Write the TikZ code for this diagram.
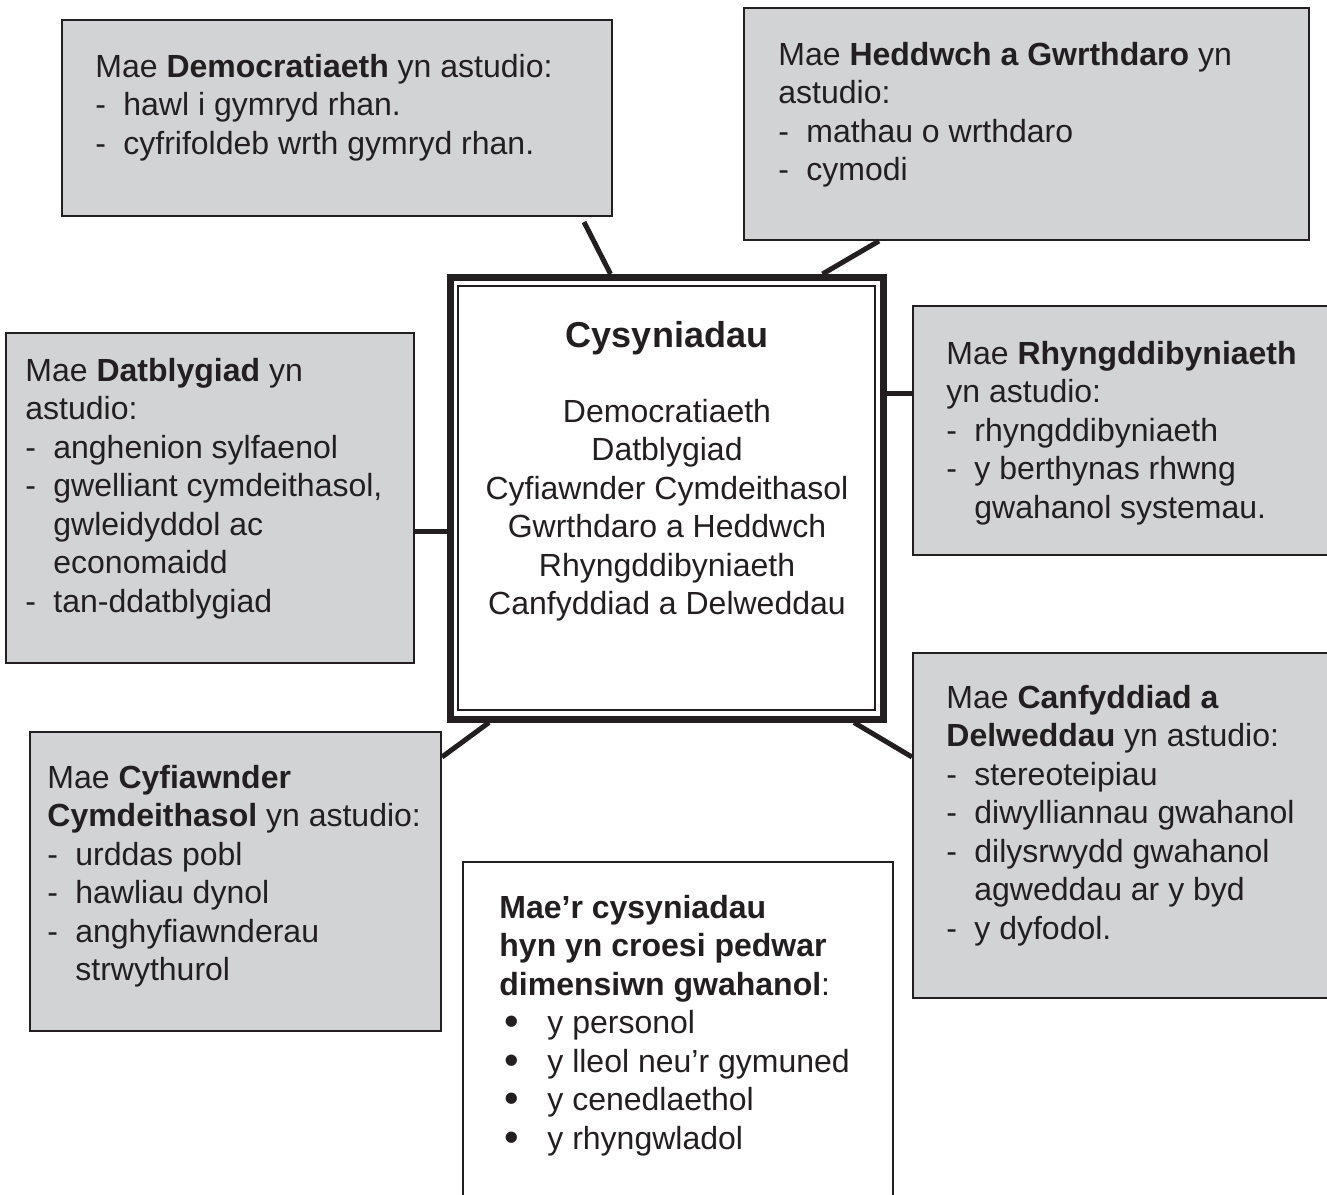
\documentclass[tikz,border=0pt]{standalone}
\usepackage{fontspec}
\setmainfont{Liberation Sans}
\usepackage{graphicx}
\usetikzlibrary{fit}
\definecolor{boxgrey}{HTML}{D1D3D4}
\definecolor{ink}{HTML}{231F20}
\newcommand{\itm}{\makebox[14pt][l]{-}}
\newcommand{\cont}{\hspace*{14pt}}
\newcommand{\bul}{\makebox[24pt][l]{\hspace{2.5pt}\raisebox{-1pt}{\scalebox{1.3}{•}}}}
\newcommand{\tstrut}{\rule{0pt}{20pt}}

\tikzset{
  greybox/.style={draw=ink,line width=1pt,fill=boxgrey,inner sep=0pt},
  whitebox/.style={draw=ink,line width=1pt,fill=white,inner sep=0pt},
  txt/.style={anchor=north west,inner sep=0pt,align=left,text=ink,font=\fontsize{16}{19.25}\selectfont},
  link/.style={draw=ink,line width=2.5pt},
}

\begin{document}
\begin{tikzpicture}[x=0.5pt,y=-0.5pt]
\path[use as bounding box,clip] (0,0) rectangle (1327,1194);

% boxes
\node[greybox,fit={(62,20)(612,216)}] (demo) {};
\node[greybox,fit={(744,8)(1309,240)}] (hedd) {};
\node[greybox,fit={(6,333)(414,663)}] (dat) {};
\node[greybox,fit={(913,306)(1340,555)}] (rhyng) {};
\node[greybox,fit={(913,653)(1340,998)}] (canf) {};
\node[greybox,fit={(30,732)(441,1031)}] (cyf) {};
\node[whitebox,fit={(463,862)(893,1210)}] (dims) {};

% centre box, thick and thin border
\node[draw=ink,line width=3.5pt,fill=white,inner sep=0pt,fit={(450,277.5)(883,719)}] (centre) {};
\node[draw=ink,line width=1pt,inner sep=0pt,fit={(458,286)(875,710)}] (centreinner) {};

% links
\coordinate (datlink) at ([yshift=-16.5pt]dat.east);
\coordinate (rhynglink) at ([yshift=52.5pt]centre.east);
\draw[link] ([shift={(-14.5pt,-2.5pt)}]demo.south east) -- ([xshift=82pt]centre.north west);
\draw[link] ([xshift=68pt]hedd.south west) -- ([xshift=-32pt]centre.north east);
\draw[link] (datlink) -- (datlink -| centre.west);
\draw[link] (rhynglink) -- (rhynglink -| rhyng.west);
\draw[link] ([xshift=-16.25pt]centre.south east) -- ([yshift=-52.5pt]canf.north west);
\draw[link] ([xshift=21.25pt]centre.south west) -- ([yshift=-13pt]cyf.north east);

% texts
\node[txt] (demotxt) at (95,37) {\tstrut Mae \textbf{Democratiaeth} yn astudio:\\
  \itm hawl i gymryd rhan.\\
  \itm cyfrifoldeb wrth gymryd rhan.};
\node[txt] (heddtxt) at (778,25) {\tstrut Mae \textbf{Heddwch a Gwrthdaro} yn\\
  astudio:\\
  \itm mathau o wrthdaro\\
  \itm cymodi};
\node[txt] (dattxt) at (25,341) {\tstrut Mae \textbf{Datblygiad} yn\\
  astudio:\\
  \itm anghenion sylfaenol\\
  \itm gwelliant cymdeithasol,\\
  \cont gwleidyddol ac\\
  \cont economaidd\\
  \itm tan-ddatblygiad};
\node[txt] (rhyngtxt) at (946,324) {\tstrut Mae \textbf{Rhyngddibyniaeth}\\
  yn astudio:\\
  \itm rhyngddibyniaeth\\
  \itm y berthynas rhwng\\
  \cont gwahanol systemau.};
\node[txt] (canftxt) at (946,668) {\tstrut Mae \textbf{Canfyddiad a}\\
  \textbf{Delweddau} yn astudio:\\
  \itm stereoteipiau\\
  \itm diwylliannau gwahanol\\
  \itm dilysrwydd gwahanol\\
  \cont agweddau ar y byd\\
  \itm y dyfodol.};
\node[txt] (cyftxt) at (47,748) {\tstrut Mae \textbf{Cyfiawnder}\\
  \textbf{Cymdeithasol} yn astudio:\\
  \itm urddas pobl\\
  \itm hawliau dynol\\
  \itm anghyfiawnderau\\
  \cont strwythurol};
\node[txt] (dimstxt) at (499,878) {\tstrut\textbf{Mae’r cysyniadau}\\
  \textbf{hyn yn croesi pedwar}\\
  \textbf{dimensiwn gwahanol}:\\
  \bul y personol\\
  \bul y lleol neu’r gymuned\\
  \bul y cenedlaethol\\
  \bul y rhyngwladol};
\node[txt,anchor=north,align=center] (centretxt) at (667,307) {\tstrut{\fontsize{18}{21}\selectfont\bfseries Cysyniadau}\\[18.25pt]
  Democratiaeth\\
  Datblygiad\\
  Cyfiawnder Cymdeithasol\\
  Gwrthdaro a Heddwch\\
  Rhyngddibyniaeth\\
  Canfyddiad a Delweddau};
\end{tikzpicture}
\end{document}
